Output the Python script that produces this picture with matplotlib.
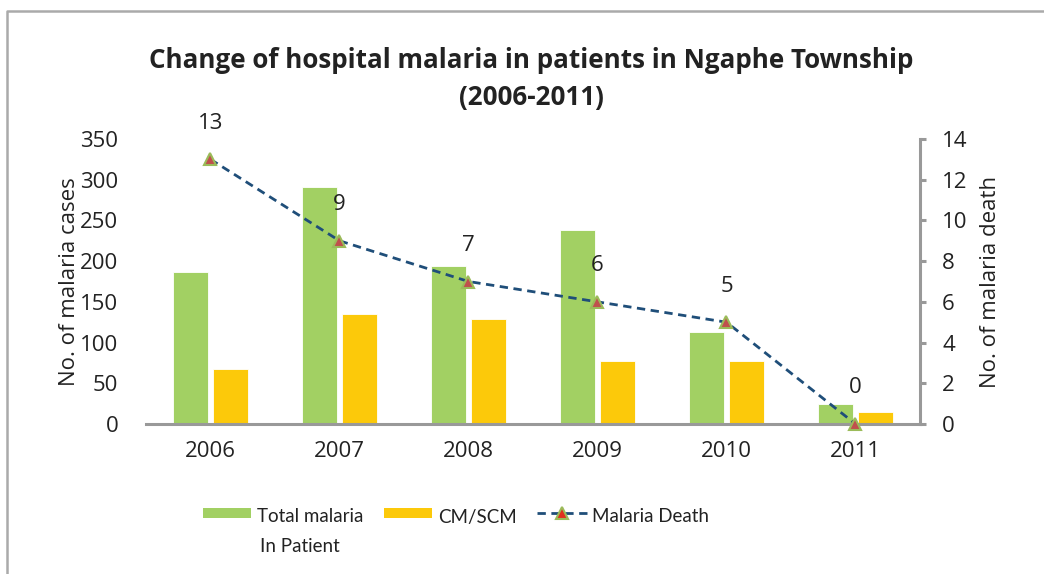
import matplotlib
matplotlib.use("Agg")
import matplotlib.pyplot as plt
from matplotlib.patches import Rectangle
from matplotlib.lines import Line2D
import numpy as np

years = ["2006", "2007", "2008", "2009", "2010", "2011"]
total_inpatient = [187, 291, 194, 238, 113, 25]
cm_scm = [67, 135, 129, 77, 77, 15]
deaths = [13, 9, 7, 6, 5, 0]

GREEN = "#A2D063"
YELLOW = "#FCC90A"
NAVY = "#1F4E79"
GRAY = "#999999"
TXT = "#222222"

plt.rcParams['font.family'] = ['Open Sans', 'DejaVu Sans']
LEG_FAMILY = ['Lato', 'DejaVu Sans']

W, H = 1044, 574
fig = plt.figure(figsize=(W / 100, H / 100), dpi=100)

def fx(x):
    return x / W

def fy(y):
    return 1 - y / H

ax = fig.add_axes([fx(146), fy(424), fx(920) - fx(146), fy(139) - fy(424)])
ax2 = ax.twinx()

x = np.arange(len(years))
bw = 0.265
off = 0.155
ax.bar(x - off, total_inpatient, bw, color=GREEN, edgecolor="white", linewidth=0.6, zorder=2)
ax.bar(x + off, cm_scm, bw, color=YELLOW, edgecolor="white", linewidth=0.6, zorder=2)

ax.set_xlim(-0.5, len(years) - 0.5)
ax.set_ylim(0, 350)
ax.set_yticks(range(0, 351, 50))
ax.set_xticks(x)
ax.set_xticklabels(years)
ax2.set_ylim(0, 14)
ax2.set_yticks(range(0, 15, 2))

for s in ["top", "left", "right"]:
    ax.spines[s].set_visible(False)
for s in ["top", "left", "bottom"]:
    ax2.spines[s].set_visible(False)
ax.spines["bottom"].set_color(GRAY)
ax.spines["bottom"].set_linewidth(2.2)
ax2.spines["right"].set_color(GRAY)
ax2.spines["right"].set_linewidth(2.2)

ax.tick_params(axis="y", length=0, pad=20, labelsize=16, labelcolor=TXT)
ax.tick_params(axis="x", length=0, pad=12, labelsize=16, labelcolor=TXT)
ax2.tick_params(axis="y", length=4, width=2.2, color=GRAY, direction="out", pad=12,
                labelsize=16, labelcolor=TXT)

ax.set_ylabel("No. of malaria cases", fontsize=16, color=TXT, labelpad=0)
ax2.set_ylabel("No. of malaria death", fontsize=16, color=TXT, labelpad=9)

ax2.plot(x, deaths, linestyle=(0, (3, 2)), color=NAVY, linewidth=2, marker="^",
         markersize=9, markerfacecolor="#C0504D", markeredgecolor="#9BBB59",
         markeredgewidth=1.5, zorder=3, clip_on=False)
for xi, d in zip(x, deaths):
    ax2.annotate(str(d), (xi, d), xytext=(0, 26), textcoords="offset points",
                 ha="center", va="center", fontsize=16, color=TXT)
ax2.set_zorder(ax.get_zorder() + 1)

fig.text(fx(531), fy(60), "Change of hospital malaria in patients in Ngaphe Township",
         ha="center", va="center", fontsize=18.7, fontweight="bold", color=TXT)
fig.text(fx(531), fy(97), "(2006-2011)",
         ha="center", va="center", fontsize=18.7, fontweight="bold", color=TXT)

# legend (drawn manually to keep the first line aligned with the handle)
LFS = 13.5
fig.add_artist(Rectangle((fx(203), fy(518)), fx(251) - fx(203), fy(508) - fy(518),
                         transform=fig.transFigure, color=GREEN, lw=0))
fig.text(fx(257), fy(517), "Total malaria", ha="left", va="center", fontsize=LFS,
         color=TXT, family=LEG_FAMILY)
fig.text(fx(260), fy(546), "In Patient", ha="left", va="center", fontsize=LFS,
         color=TXT, family=LEG_FAMILY)
fig.add_artist(Rectangle((fx(384), fy(518)), fx(432) - fx(384), fy(508) - fy(518),
                         transform=fig.transFigure, color=YELLOW, lw=0))
fig.text(fx(438), fy(517), "CM/SCM", ha="left", va="center", fontsize=LFS,
         color=TXT, family=LEG_FAMILY)
fig.add_artist(Line2D([fx(537), fx(587)], [fy(513), fy(513)], transform=fig.transFigure,
                      color=NAVY, linestyle=(0, (3, 2)), linewidth=2))
fig.add_artist(Line2D([fx(562)], [fy(513)], transform=fig.transFigure, marker="^",
                      markersize=9, markerfacecolor="#E03020", markeredgecolor="#9BBB59",
                      markeredgewidth=1.5, linestyle="none"))
fig.text(fx(592), fy(517), "Malaria Death", ha="left", va="center", fontsize=LFS,
         color=TXT, family=LEG_FAMILY)

# outer frame (top and left visible)
fig.add_artist(Line2D([fx(7), fx(7), 1], [0, fy(11), fy(11)], transform=fig.transFigure,
                      color="#AAAAAA", linewidth=1.8))

fig.savefig("out.png", dpi=100)
